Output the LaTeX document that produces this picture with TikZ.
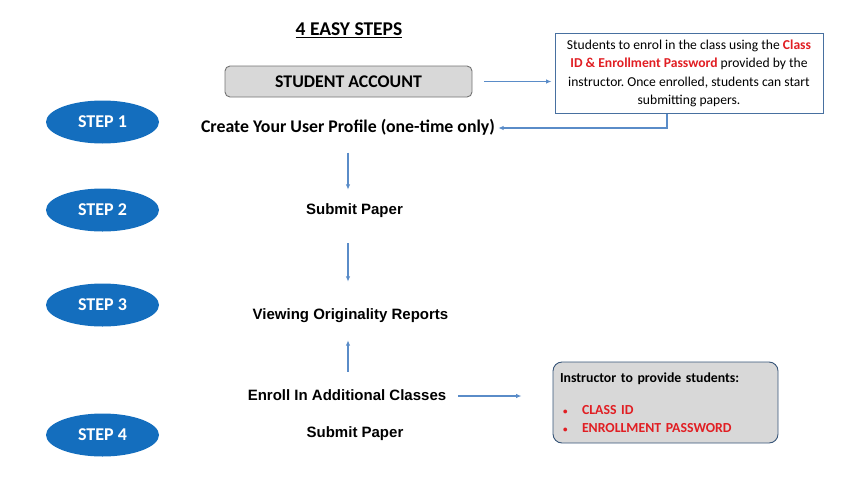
\documentclass[tikz,border=0pt]{standalone}
\usepackage{fontspec}
\setmainfont{Carlito}
\newfontfamily\arialfont{Liberation Sans}
\usetikzlibrary{arrows.meta,shapes.geometric}
\definecolor{stepblue}{RGB}{20,110,190}
\definecolor{flowblue}{RGB}{90,140,200}
\definecolor{boxgray}{RGB}{216,216,216}
\definecolor{alertred}{RGB}{225,30,35}
\frenchspacing
\begin{document}
\begin{tikzpicture}[x=1pt, y=-1pt,
    stepoval/.style={ellipse, fill=stepblue, inner sep=0pt, minimum width=113pt, minimum height=43pt,
        text=white, font=\fontsize{18}{21}\selectfont\bfseries},
    headline/.style={inner sep=0pt, text height=13pt, text depth=4pt, font=\fontsize{17.8}{21}\selectfont\bfseries},
    arialline/.style={inner sep=0pt, text height=11pt, text depth=3pt, font=\arialfont\fontsize{15}{18}\selectfont\bfseries},
    flow/.style={draw=flowblue, line width=1.1pt, -{Latex[length=5.5pt,width=4.5pt]}}]
    \useasboundingbox (0,0) rectangle (850,498);

    \node[headline, font=\fontsize{19.5}{22}\selectfont\bfseries] (title) at (349, 31) {\underline{4 EASY STEPS}};
    \node[headline, draw=black!55, line width=0.9pt, fill=boxgray, rounded corners=5pt,
        minimum width=247pt, minimum height=31pt, text height=15pt, text depth=4pt] (acct) at (348.5, 81.5) {STUDENT ACCOUNT};
    \node[draw=flowblue!80!black, line width=0.9pt, fill=white, minimum width=268pt, inner sep=0pt,
        minimum height=80pt, align=center, font=\fontsize{13.6}{18.3}\selectfont] (info) at (689, 73.5)
        {Students to enrol in the class using the \textbf{\color{alertred}Class}\\
         \textbf{\color{alertred}ID \& Enrollment Password} provided by the\\
         instructor. Once enrolled, students can start\\
         submitting papers.};

    \node[stepoval] (s1) at (102.5, 122) {STEP 1};
    \node[stepoval] (s2) at (102.5, 210) {STEP 2};
    \node[stepoval] (s3) at (102.5, 305) {STEP 3};
    \node[stepoval] (s4) at (102.5, 435) {STEP 4};

    \node[headline] (create) at (348, 128) {Create Your User Profile (one-time only)};
    \node[arialline] (sub1) at (354.5, 210) {Submit Paper};
    \node[arialline] (view) at (350.5, 315) {Viewing Originality Reports};
    \node[arialline] (enroll) at (347, 396) {Enroll In Additional Classes};
    \node[arialline] (sub2) at (355, 433) {Submit Paper};

    \node[draw=flowblue!60!black, line width=0.9pt, fill=boxgray, rounded corners=9pt,
        minimum width=225pt, minimum height=81pt, text width=211pt, inner xsep=7pt, align=left,
        font=\fontsize{13.8}{18}\selectfont\bfseries] (instr) at (665.5, 402.5)
        {Instructor to provide students:\\[14pt]
         \color{alertred}\makebox[22pt][l]{\hspace{3pt}{\fontsize{9}{9}\selectfont\textbullet}}CLASS ID\\
         \color{alertred}\makebox[22pt][l]{\hspace{3pt}{\fontsize{9}{9}\selectfont\textbullet}}ENROLLMENT PASSWORD};

    \draw[flow, shorten <=12pt, shorten >=3pt] (acct.east) -- (info.west |- acct.east);
    \draw[flow, shorten >=3pt] ([xshift=-22pt]info.south) |- (create.east);
    \draw[flow, shorten <=16pt, shorten >=13pt] (create.south) -- (create.south |- sub1.north);
    \draw[flow, shorten <=26pt, shorten >=26pt] (create.south |- sub1.south) -- (create.south |- view.north);
    \draw[flow, shorten <=17pt, shorten >=18pt] (create.south |- enroll.north) -- (create.south |- view.south);
    \draw[flow, shorten <=12pt, shorten >=31pt] (enroll.east) -- (enroll.east -| instr.west);
\end{tikzpicture}
\end{document}
